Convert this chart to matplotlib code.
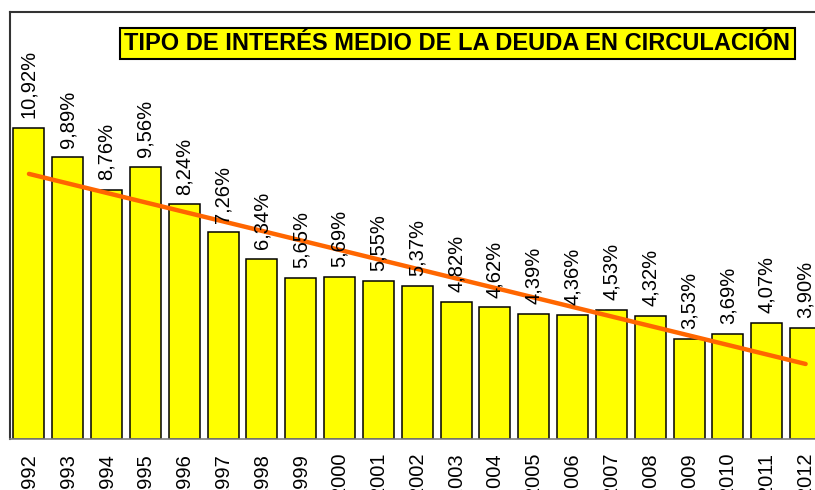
import matplotlib
matplotlib.use('Agg')
import matplotlib.pyplot as plt
import numpy as np

years = ['1992', '1993', '1994', '1995', '1996', '1997', '1998', '1999', '2000', '2001', '2002',
         '2003', '2004', '2005', '2006', '2007', '2008', '2009', '2010', '2011', '2012']
tipos = [10.92, 9.89, 8.76, 9.56, 8.24, 7.26, 6.34, 5.65, 5.69, 5.55, 5.37,
         4.82, 4.62, 4.39, 4.36, 4.53, 4.32, 3.53, 3.69, 4.07, 3.90]

plt.rcParams['font.family'] = ['Liberation Sans', 'DejaVu Sans']

fig = plt.figure(figsize=(8.15, 4.9), dpi=100)
# plot area runs past the right edge, as in the original screenshot
ax = fig.add_axes([0.0117, 0.1041, 1.0006, 0.8714])

x = np.arange(len(years))
ax.bar(x, tipos, width=0.8, color='#FFFF00', edgecolor='black', linewidth=1.1, zorder=2)

# linear trend line (least squares), like Excel's
coef = np.polyfit(x, tipos, 1)
ax.plot(x, np.polyval(coef, x), color='#FF6600', linewidth=3.2, solid_capstyle='round', zorder=3)

for xi, v in zip(x, tipos):
    ax.annotate(f'{v:.2f}%'.replace('.', ','), (xi, v), xytext=(0, 7), textcoords='offset points',
                rotation=90, ha='center', va='bottom', fontsize=14.5, zorder=4)

ax.set_xlim(-0.5, len(years) - 0.5)
ax.set_ylim(0, 15)
ax.set_yticks([])
ax.set_xticks(x)
ax.set_xticklabels(years, rotation=90, fontsize=14.5, va='top')
ax.tick_params(axis='x', length=0, pad=10)
for s in ['left', 'top', 'right']:
    ax.spines[s].set_color('#333333')
    ax.spines[s].set_linewidth(1.5)
ax.spines['bottom'].set_color('#808080')
ax.spines['bottom'].set_linewidth(1.2)

fig.text(0.5613, 0.911, 'TIPO DE INTERÉS MEDIO DE LA DEUDA EN CIRCULACIÓN',
         fontweight='bold', fontsize=17, ha='center', va='center',
         bbox=dict(boxstyle='square,pad=0.18', facecolor='#FFFF00', edgecolor='black', linewidth=1.5))

fig.savefig('out.png', dpi=100)
